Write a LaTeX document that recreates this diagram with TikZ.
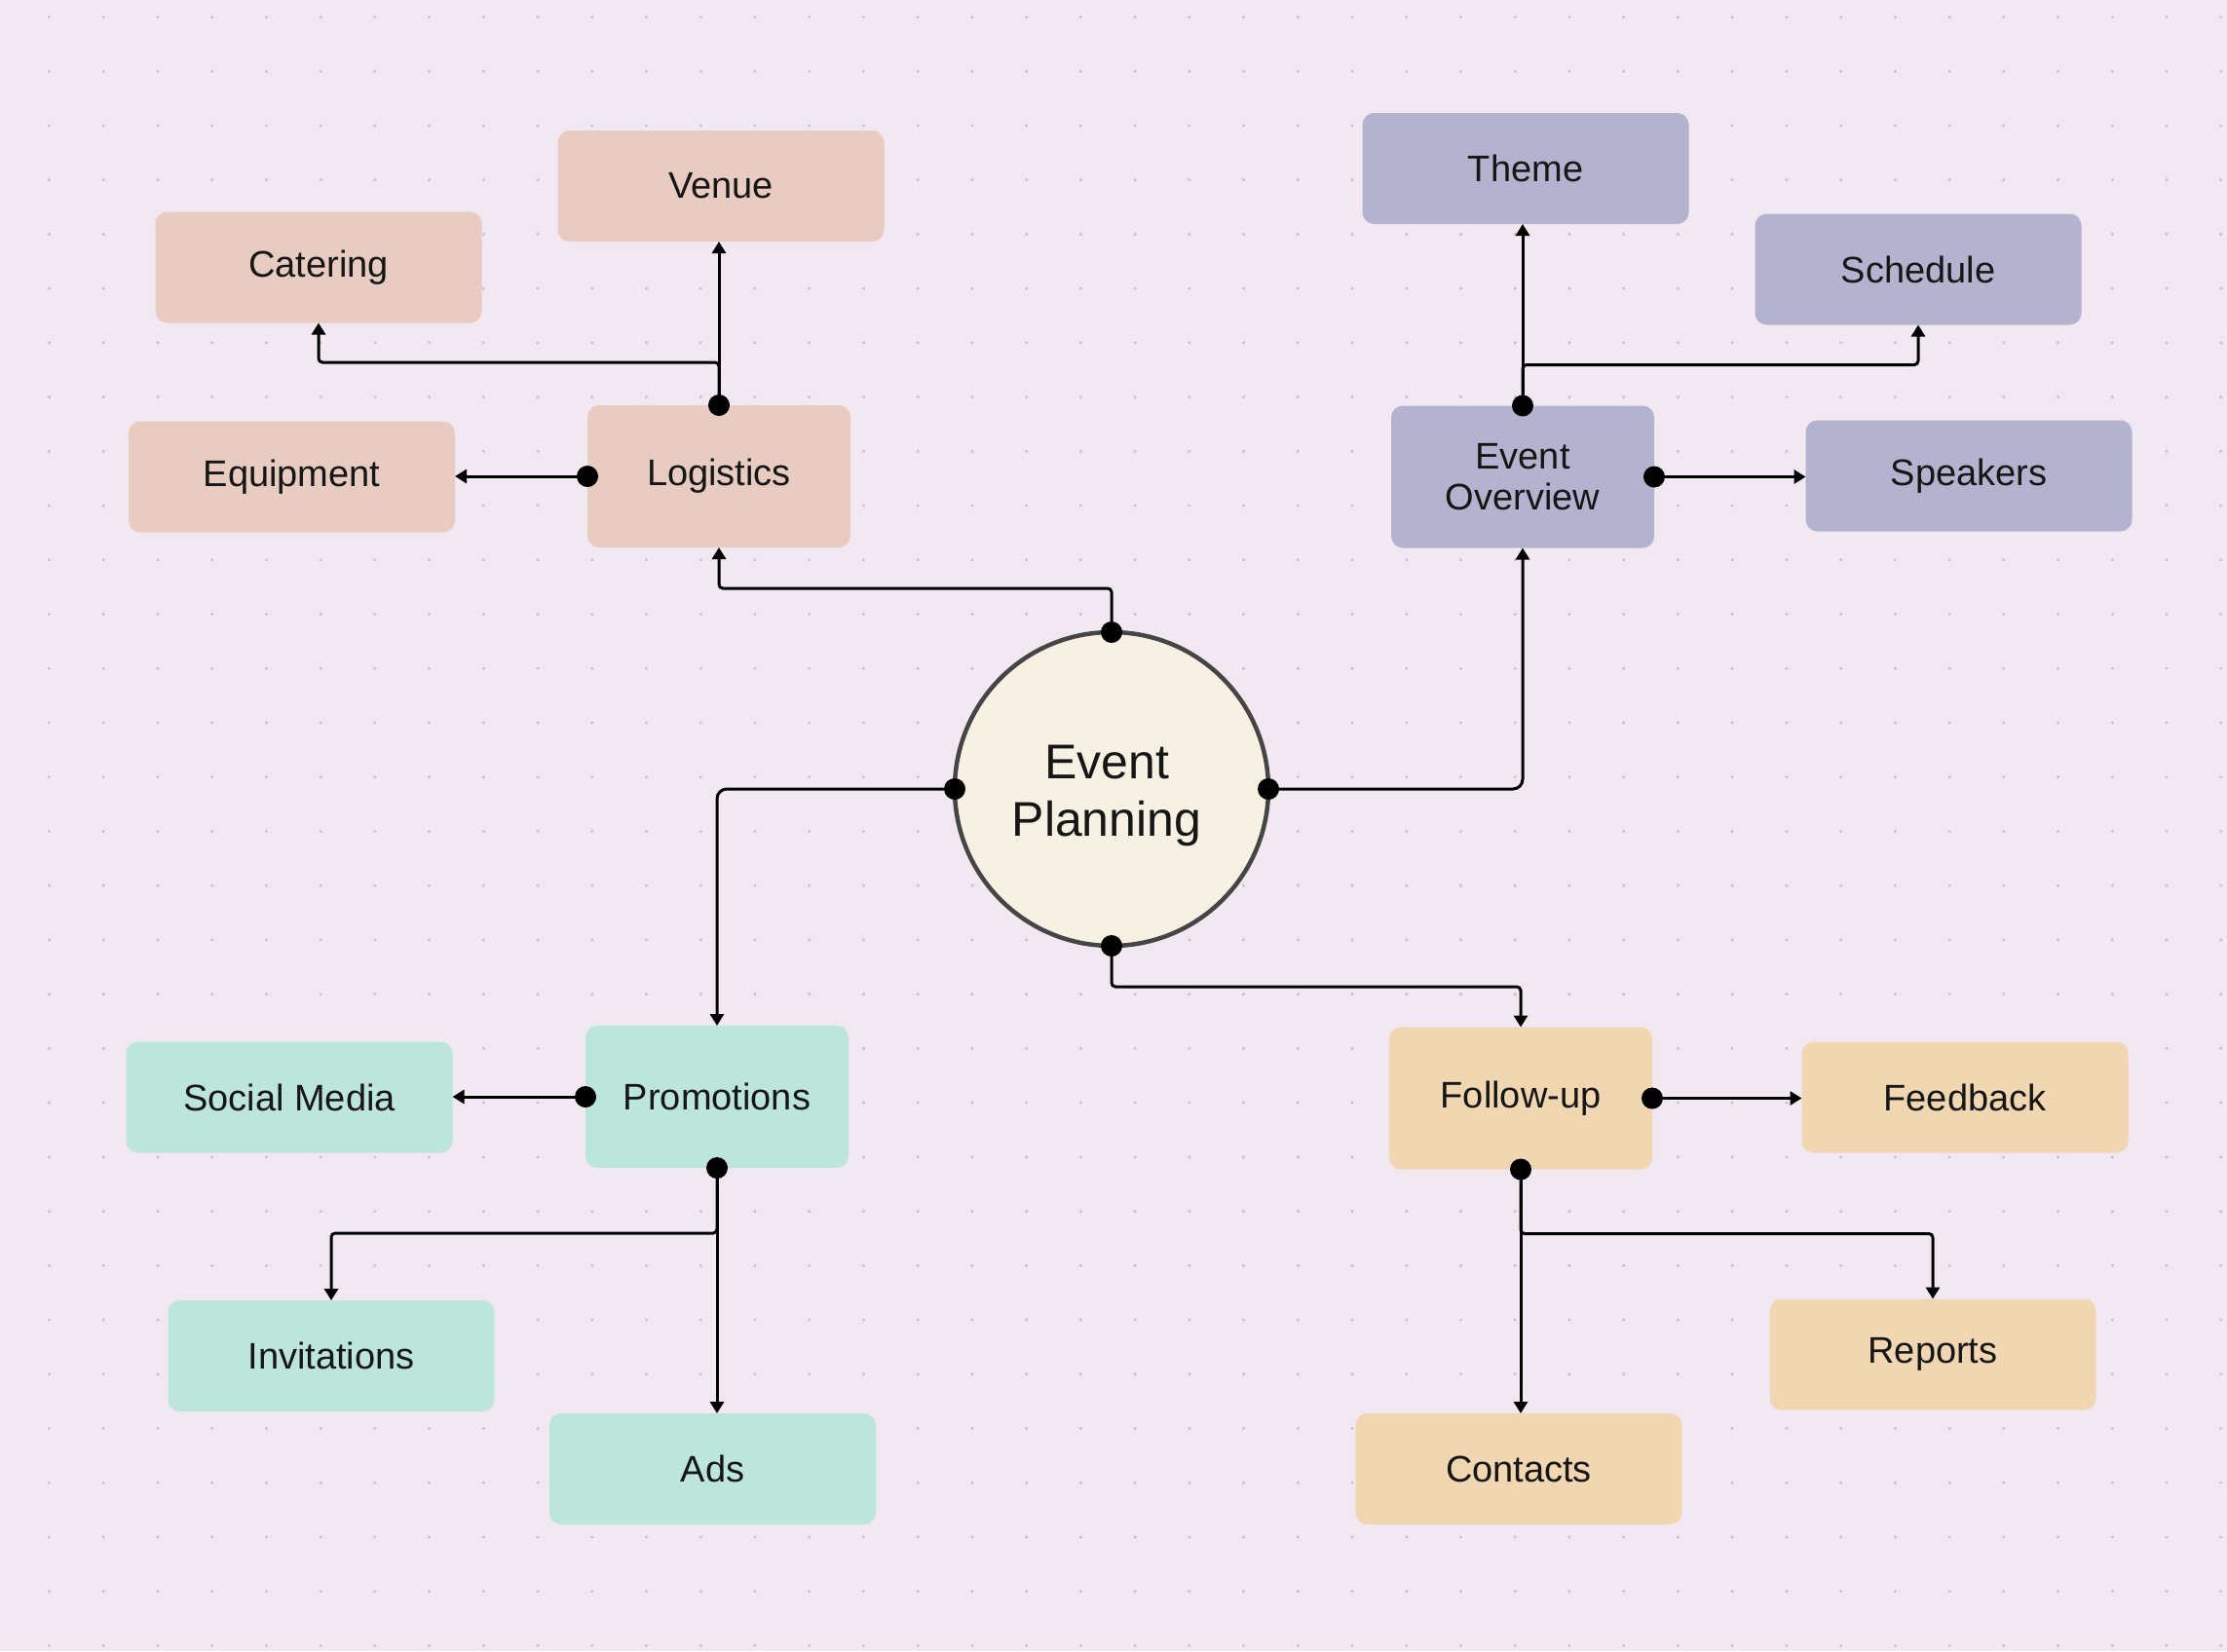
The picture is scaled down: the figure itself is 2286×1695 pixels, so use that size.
\documentclass[tikz,border=0pt]{standalone}
\usepackage{fontspec}
\setmainfont{Liberation Sans}
\usetikzlibrary{arrows.meta}
\definecolor{bg}{HTML}{F1E8F2}
\definecolor{griddot}{HTML}{C8C0CB}
\definecolor{peach}{HTML}{E9CCC1}
\definecolor{lav}{HTML}{B3B3D0}
\definecolor{mint}{HTML}{BCE5DC}
\definecolor{tan}{HTML}{F0D6B1}
\definecolor{cream}{HTML}{F6F1E2}
\definecolor{ring}{HTML}{454545}
\definecolor{txt}{HTML}{161616}
\begin{document}
\begin{tikzpicture}[x=1pt,y=-1pt,
  boxbase/.style={rectangle, rounded corners=12pt, inner sep=0pt, outer sep=0pt,
    text=txt, align=center, font=\fontsize{38}{42}\selectfont},
  leaf/.style={boxbase, minimum width=335pt, minimum height=114pt},
  hub/.style={boxbase, minimum width=270pt, minimum height=146pt},
  conn/.style={line width=3pt, draw=black, rounded corners=4pt,
    -{Triangle[length=12pt,width=14pt]}},
  softconn/.style={conn, rounded corners=10pt},
  startdot/.style={fill=black}
]
\useasboundingbox (0,0) rectangle (2286,1695);
\fill[bg] (0,0) rectangle (2286,1695);
\foreach \i in {0,...,40}{
  \foreach \j in {0,...,30}{
    \fill[griddot] ({50.5+55.73*\i},{17.5+55.73*\j}) circle (1.7pt);
  }
}

% centre
\node[circle, minimum size=322pt, inner sep=0pt, outer sep=0pt, draw=ring, line width=4.5pt,
  fill=cream] (ep) at (1141,810) {};
\node[text=txt, align=center, font=\fontsize{50}{59}\selectfont] (eplabel) at (1136,817) {Event\\Planning};

% logistics group
\node[hub, fill=peach] (logi) at (738,489) {Logistics};
\node[leaf, fill=peach] (venue) at (740,191) {Venue};
\node[leaf, fill=peach] (cater) at (327,274.5) {Catering};
\node[leaf, fill=peach] (equip) at (299.5,489.5) {Equipment};

% overview group
\node[hub, fill=lav] (eo) at (1563,489.5) {Event\\Overview};
\node[leaf, fill=lav] (theme) at (1566,173) {Theme};
\node[leaf, fill=lav] (sched) at (1969,276.5) {Schedule};
\node[leaf, fill=lav] (speak) at (2021,488.5) {Speakers};

% promotions group
\node[hub, fill=mint] (promo) at (736,1126) {Promotions};
\node[leaf, fill=mint] (social) at (297,1126.5) {Social Media};
\node[leaf, fill=mint] (invit) at (340,1392) {Invitations};
\node[leaf, fill=mint] (ads) at (731.5,1508) {Ads};

% follow-up group
\node[hub, fill=tan] (follow) at (1561,1127.5) {Follow-up};
\node[leaf, fill=tan] (feed) at (2017,1126.5) {Feedback};
\node[leaf, fill=tan] (reports) at (1984,1390.5) {Reports};
\node[leaf, fill=tan] (contacts) at (1559,1508) {Contacts};

% connectors from centre
\draw[conn] (ep.north) -- ++(0,-45) -| (logi.south);
\draw[softconn] (ep.east) -| (eo.south);
\draw[softconn] (ep.west) -| (promo.north);
\draw[conn] (ep.south) -- ++(0,42) -| (follow.north);

% logistics
\draw[conn] (logi.north) -- (logi.north |- venue.south);
\draw[conn] (logi.north) -- ++(0,-44) -| (cater.south);
\draw[conn] (logi.west) -- (logi.west -| equip.east);

% overview
\draw[conn] (eo.north) -- (eo.north |- theme.south);
\draw[conn] (eo.north) -- ++(0,-42) -| (sched.south);
\draw[conn] (eo.east) -- (eo.east -| speak.west);

% promotions
\draw[conn] (promo.west) -- (promo.west -| social.east);
\draw[conn] (promo.south) -- (promo.south |- ads.north);
\draw[conn] (promo.south) -- ++(0,67) -| (invit.north);

% follow-up
\draw[conn] (follow.east) -- (follow.east -| feed.west);
\draw[conn] (follow.south) -- (follow.south |- contacts.north);
\draw[conn] (follow.south) -- ++(0,66) -| (reports.north);

% start dots
\foreach \a in {ep.north,ep.east,ep.west,ep.south,logi.north,logi.west,eo.north,eo.east,
  promo.west,promo.south,follow.east,follow.south}{
  \fill[startdot] (\a) circle (11pt);
}
\end{tikzpicture}
\end{document}
